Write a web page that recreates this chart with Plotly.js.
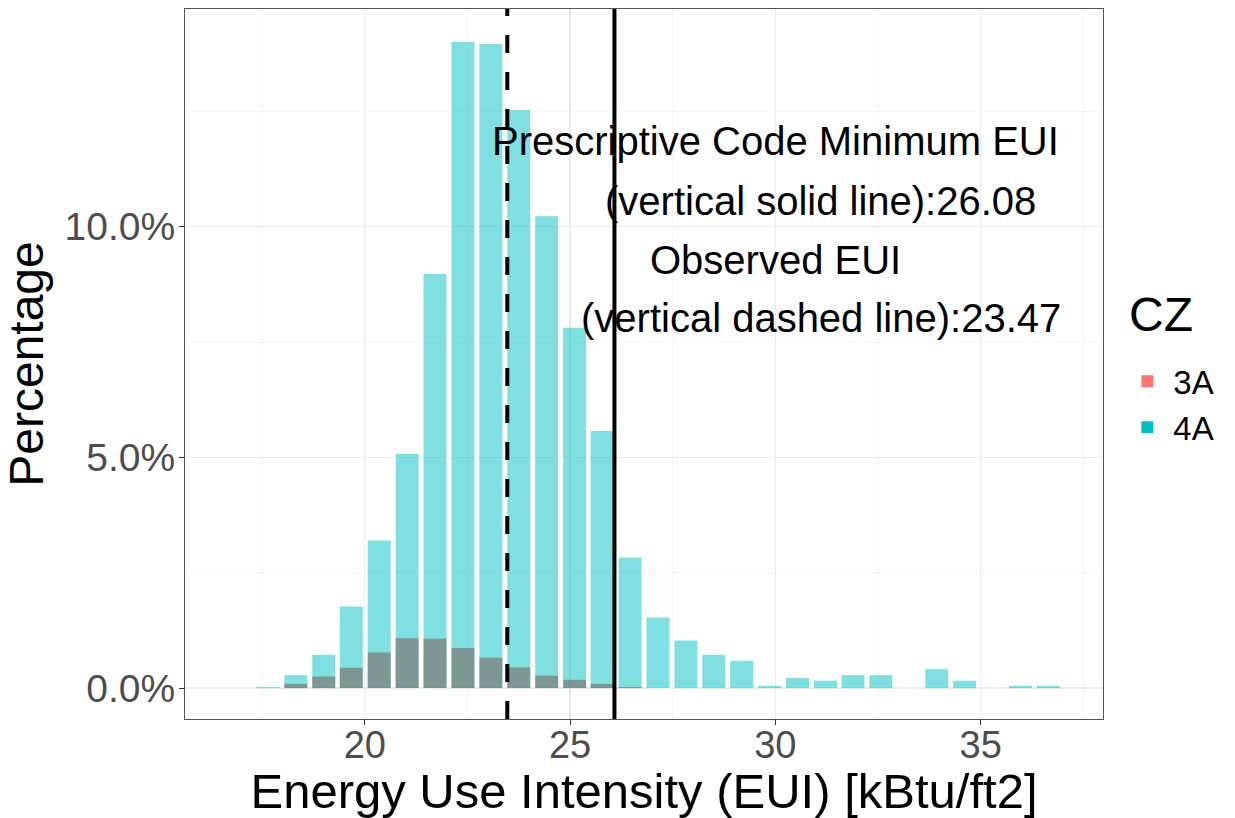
<!DOCTYPE html>
<html>
<head>
<meta charset="utf-8">
<script src="https://cdn.plot.ly/plotly-3.0.1.min.js"></script>
<style>html,body{margin:0;padding:0;background:#fff;}#chart{width:1235px;height:818px;}</style>
</head>
<body>
<div id="chart"></div>
<script>
// Histogram bin centres (EUI, kBtu/ft2)
const binCenters = [16.96, 17.64, 18.32, 19.00, 19.67, 20.35, 21.03, 21.71, 22.39, 23.07,
                    23.75, 24.43, 25.11, 25.78, 26.46, 27.14, 27.82, 28.50, 29.18, 29.86,
                    30.54, 31.22, 31.89, 32.57, 33.25, 33.93, 34.61, 35.29, 35.97, 36.65];
// Percentage of buildings per bin, by climate zone
const pct4A = [0, 0.02, 0.28, 0.72, 1.77, 3.20, 5.08, 8.98, 14.01, 13.96,
               12.53, 10.23, 7.81, 5.57, 2.83, 1.53, 1.03, 0.72, 0.59, 0.05,
               0.22, 0.16, 0.28, 0.28, 0, 0.41, 0.16, 0, 0.05, 0.05];
const pct3A = [0, 0, 0.09, 0.25, 0.44, 0.77, 1.08, 1.07, 0.87, 0.66,
               0.45, 0.27, 0.18, 0.09, 0.02, 0, 0, 0, 0, 0,
               0, 0, 0, 0, 0, 0, 0, 0, 0, 0];
const zones = ["3A", "4A"];
const zoneColors = ["#F8766D", "#00BFC4"];
const legendTitle = "CZ";
const codeMinEUI = 26.08;   // vertical solid line
const observedEUI = 23.47;  // vertical dashed line
const annLines = [
  "Prescriptive Code Minimum EUI",
  "(vertical solid line):" + codeMinEUI.toFixed(2),
  "Observed EUI",
  "(vertical dashed line):" + observedEUI.toFixed(2)
];
const annX = [30.0, 31.1, 30.0, 31.1];
const annY = [11.85, 10.55, 9.29, 8.03];

const FONT = "Liberation Sans, Arial, sans-serif";

const traces = [
  {type: "bar", x: binCenters, y: pct4A, name: zones[1], showlegend: false,
   marker: {color: "rgba(0,191,196,0.5)"}, hoverinfo: "x+y"},
  {type: "bar", x: binCenters, y: pct3A, name: zones[0], showlegend: false,
   marker: {color: "rgba(124,82,72,0.5)"}, hoverinfo: "x+y"},
  // legend keys
  {type: "bar", x: [null], y: [null], name: zones[0], marker: {color: zoneColors[0]}, showlegend: true},
  {type: "bar", x: [null], y: [null], name: zones[1], marker: {color: zoneColors[1]}, showlegend: true}
];

const annotations = annLines.map((t, i) => ({
  x: annX[i], y: annY[i], xref: "x", yref: "y", text: t, showarrow: false,
  xanchor: "center", yanchor: "middle", font: {family: FONT, size: 40, color: "#000"}
}));
annotations.push({
  x: 1.026, y: 0.57, xref: "paper", yref: "paper", text: legendTitle, showarrow: false,
  xanchor: "left", yanchor: "middle", font: {family: FONT, size: 48, color: "#000"}
});

const layout = {
  width: 1235, height: 818,
  margin: {l: 185, r: 132, t: 9, b: 99},
  paper_bgcolor: "#fff", plot_bgcolor: "#fff",
  barmode: "overlay", bargap: 0.165,
  font: {family: FONT},
  xaxis: {
    range: [15.62, 37.98], tickvals: [20, 25, 30, 35], ticktext: ["20", "25", "30", "35"],
    showgrid: true, gridcolor: "#EBEBEB", gridwidth: 1.2,
    minor: {tickvals: [17.5, 22.5, 27.5, 32.5, 37.5], showgrid: true, gridcolor: "#F3F3F3", gridwidth: 0.8, ticks: ""},
    zeroline: false, showline: true, mirror: true, linecolor: "#555", linewidth: 1,
    ticks: "outside", ticklen: 5, tickcolor: "#333", tickwidth: 1,
    ticklabelstandoff: -13,
    tickfont: {family: FONT, size: 38, color: "#4D4D4D"},
    title: {text: "Energy Use Intensity (EUI) [kBtu/ft2]", font: {family: FONT, size: 49, color: "#000"}, standoff: 4}
  },
  yaxis: {
    range: [-0.67, 14.72], tickvals: [0, 5, 10], ticktext: ["0.0%", "5.0%", "10.0%"],
    showgrid: true, gridcolor: "#EBEBEB", gridwidth: 1.2,
    minor: {tickvals: [2.5, 7.5, 12.5], showgrid: true, gridcolor: "#F3F3F3", gridwidth: 0.8, ticks: ""},
    zeroline: false, showline: true, mirror: true, linecolor: "#555", linewidth: 1,
    ticks: "outside", ticklen: 5, tickcolor: "#333", tickwidth: 1,
    ticklabelstandoff: -4,
    tickfont: {family: FONT, size: 39, color: "#4D4D4D"},
    title: {text: "Percentage", font: {family: FONT, size: 48, color: "#000"}, standoff: 6}
  },
  legend: {
    x: 1.02, xanchor: "left", y: 0.515, yanchor: "top",
    font: {family: FONT, size: 33, color: "#000"},
    bgcolor: "rgba(0,0,0,0)", traceorder: "normal", itemwidth: 42
  },
  shapes: [
    {type: "line", xref: "x", yref: "paper", x0: observedEUI, x1: observedEUI, y0: 0, y1: 1,
     line: {color: "#000", width: 4, dash: "18px,19px"}},
    {type: "line", xref: "x", yref: "paper", x0: codeMinEUI, x1: codeMinEUI, y0: 0, y1: 1,
     line: {color: "#000", width: 4}}
  ],
  annotations: annotations
};

Plotly.newPlot("chart", traces, layout, {displayModeBar: false, staticPlot: true});
</script>
</body>
</html>
